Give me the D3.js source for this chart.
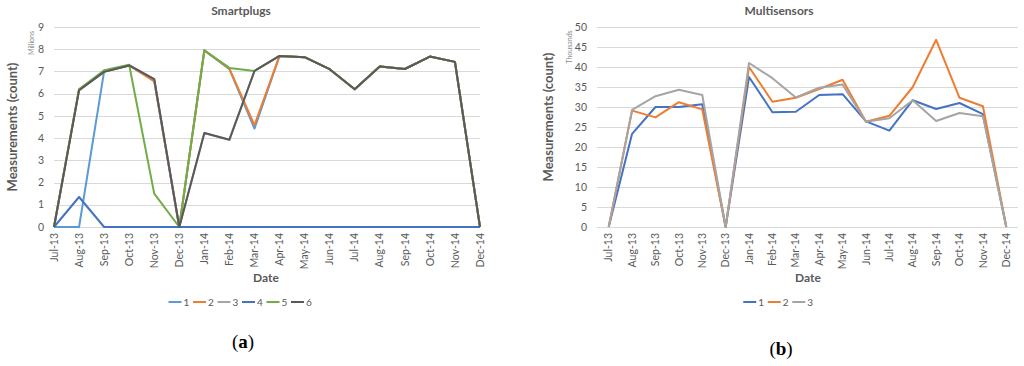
<!DOCTYPE html>
<html>
<head>
<meta charset="utf-8">
<script src="https://cdn.jsdelivr.net/npm/d3@7"></script>
<style>
  body { margin: 0; background: #fff; }
  svg { display: block; font-family: Lato, "Open Sans", sans-serif; }
</style>
</head>
<body>
<script>
let width = 1024;
let height = 366;

// shared categories
let months = ["Jul-13", "Aug-13", "Sep-13", "Oct-13", "Nov-13", "Dec-13",
    "Jan-14", "Feb-14", "Mar-14", "Apr-14", "May-14", "Jun-14",
    "Jul-14", "Aug-14", "Sep-14", "Oct-14", "Nov-14", "Dec-14"];

// smartplugs, millions
let plug1 = [0, 0, 7.0, 7.27, 6.6, 0, 7.95, 7.1, 4.43, 7.7, 7.64, 7.1, 6.2, 7.22, 7.11, 7.67, 7.43, 0];
let plug2 = [0, 6.2, 7.0, 7.27, 6.55, 0, 7.95, 7.12, 4.58, 7.7, 7.64, 7.1, 6.2, 7.22, 7.11, 7.67, 7.43, 0];
let plug3 = [0, 6.18, 6.98, 7.28, 6.65, 0, 4.23, 3.93, 7.02, 7.7, 7.64, 7.1, 6.2, 7.22, 7.11, 7.67, 7.43, 0];
let plug4 = [0, 1.35, 0, 0, 0, 0, 0, 0, 0, 0, 0, 0, 0, 0, 0, 0, 0, 0];
let plug5 = [0, 6.2, 7.05, 7.3, 1.5, 0, 7.95, 7.16, 7.02, 7.7, 7.64, 7.1, 6.2, 7.23, 7.11, 7.67, 7.43, 0];
let plug6 = [0, 6.15, 6.98, 7.27, 6.65, 0, 4.23, 3.93, 7.02, 7.7, 7.64, 7.1, 6.2, 7.22, 7.11, 7.67, 7.43, 0];
let plugNames = ["1", "2", "3", "4", "5", "6"];
let plugColors = ["#5B9BD5", "#ED7D31", "#A5A5A5", "#4472C4", "#70AD47", "#595959"];
let plugTicks = [0, 1, 2, 3, 4, 5, 6, 7, 8, 9];

// multisensors, thousands
let sens1 = [0, 23.3, 30.0, 30.0, 30.7, 0, 37.5, 28.7, 28.8, 33.0, 33.2, 26.4, 24.1, 31.7, 29.5, 31.0, 28.2, 0];
let sens2 = [0, 29.1, 27.4, 31.2, 29.4, 0, 40.0, 31.3, 32.3, 34.5, 36.8, 26.3, 27.8, 35.0, 46.8, 32.3, 30.2, 0];
let sens3 = [0, 29.3, 32.7, 34.3, 33.0, 0, 41.0, 37.2, 32.4, 34.8, 35.6, 26.3, 27.2, 31.7, 26.5, 28.5, 27.7, 0];
let sensNames = ["1", "2", "3"];
let sensColors = ["#4472C4", "#ED7D31", "#A5A5A5"];
let sensTicks = [0, 5, 10, 15, 20, 25, 30, 35, 40, 45, 50];

let svg = d3.select("body")
    .append("svg")
    .attr("width", width)
    .attr("height", height);

function drawChart(opt) {
    let g = svg.append("g");

    let x = d3.scalePoint()
        .domain(months)
        .range([opt.gridLeft, opt.gridRight])
        .padding(opt.pad);

    let y = d3.scaleLinear()
        .domain([0, d3.max(opt.ticks)])
        .range([227, 27]);

    // gridlines
    g.selectAll(".grid")
        .data(opt.ticks)
        .enter().append("line")
        .attr("x1", opt.gridLeft)
        .attr("x2", opt.gridRight)
        .attr("y1", d => Math.round(y(d)) + 0.5)
        .attr("y2", d => Math.round(y(d)) + 0.5)
        .attr("stroke", "#D9D9D9")
        .attr("stroke-width", 1);

    // y tick labels
    g.selectAll(".ylab")
        .data(opt.ticks)
        .enter().append("text")
        .attr("x", opt.gridLeft - 10)
        .attr("y", d => y(d))
        .attr("dy", "0.35em")
        .attr("text-anchor", "end")
        .attr("font-size", 10.5)
        .attr("fill", "#595959")
        .text(d => d);

    // x tick labels
    g.selectAll(".xlab")
        .data(months)
        .enter().append("text")
        .attr("transform", d => `translate(${x(d)},233) rotate(-90)`)
        .attr("dy", "0.35em")
        .attr("text-anchor", "end")
        .attr("font-size", 10.5)
        .attr("fill", "#595959")
        .text(d => d);

    // display unit
    g.append("text")
        .attr("transform", `translate(${opt.unitX},${opt.unitY}) rotate(-90)`)
        .attr("text-anchor", "middle")
        .attr("font-size", 7)
        .attr("fill", "#8C8C8C")
        .text(opt.unit);

    // axis title
    g.append("text")
        .attr("transform", `translate(${opt.ytitleX},${opt.ytitleY}) rotate(-90)`)
        .attr("text-anchor", "middle")
        .attr("font-size", 13)
        .attr("font-weight", "bold")
        .attr("fill", "#595959")
        .text("Measurements (count)");

    g.append("text")
        .attr("x", opt.titleX)
        .attr("y", 15)
        .attr("text-anchor", "middle")
        .attr("font-size", 12)
        .attr("font-weight", "bold")
        .attr("fill", "#595959")
        .text(opt.title);

    g.append("text")
        .attr("x", opt.dateX)
        .attr("y", 282)
        .attr("text-anchor", "middle")
        .attr("font-size", 12)
        .attr("font-weight", "bold")
        .attr("fill", "#595959")
        .text("Date");

    let line = d3.line()
        .x((d, i) => x(months[i]))
        .y(d => y(d));

    g.selectAll(".series")
        .data(opt.series)
        .enter().append("path")
        .attr("d", d => line(d))
        .attr("fill", "none")
        .attr("stroke", (d, i) => opt.colors[i])
        .attr("stroke-width", 2)
        .attr("stroke-linejoin", "round");

    // legend
    let itemW = 24.5;
    let lx0 = opt.legendX - itemW * opt.names.length / 2;
    let item = g.selectAll(".leg")
        .data(opt.names)
        .enter().append("g")
        .attr("transform", (d, i) => `translate(${lx0 + i * itemW},302)`);
    item.append("line")
        .attr("x1", 0).attr("x2", 13)
        .attr("y1", 0).attr("y2", 0)
        .attr("stroke", (d, i) => opt.colors[i])
        .attr("stroke-width", 2);
    item.append("text")
        .attr("x", 15)
        .attr("dy", "0.35em")
        .attr("font-size", 10)
        .attr("fill", "#595959")
        .text(d => d);

    // panel letter
    let cap = g.append("text")
        .attr("x", opt.legendX + 1)
        .attr("y", opt.capY)
        .attr("text-anchor", "middle")
        .attr("font-family", "'Liberation Serif', 'DejaVu Serif', serif")
        .attr("font-size", 19)
        .attr("fill", "#000");
    cap.append("tspan").text("(");
    cap.append("tspan").attr("font-weight", "bold").text(opt.letter);
    cap.append("tspan").text(")");
}

drawChart({
    series: [plug1, plug2, plug3, plug4, plug5, plug6],
    names: plugNames,
    colors: plugColors,
    ticks: plugTicks,
    gridLeft: 54, gridRight: 480, pad: 0,
    unit: "Millions", unitX: 34, unitY: 43,
    ytitleX: 17, ytitleY: 127,
    title: "Smartplugs", titleX: 241,
    dateX: 266, legendX: 242,
    letter: "a", capY: 348
});

drawChart({
    series: [sens1, sens2, sens3],
    names: sensNames,
    colors: sensColors,
    ticks: sensTicks,
    gridLeft: 597, gridRight: 1018, pad: 0.5,
    unit: "Thousands", unitX: 572, unitY: 47,
    ytitleX: 553, ytitleY: 117,
    title: "Multisensors", titleX: 779,
    dateX: 808, legendX: 780,
    letter: "b", capY: 355
});
</script>
</body>
</html>
